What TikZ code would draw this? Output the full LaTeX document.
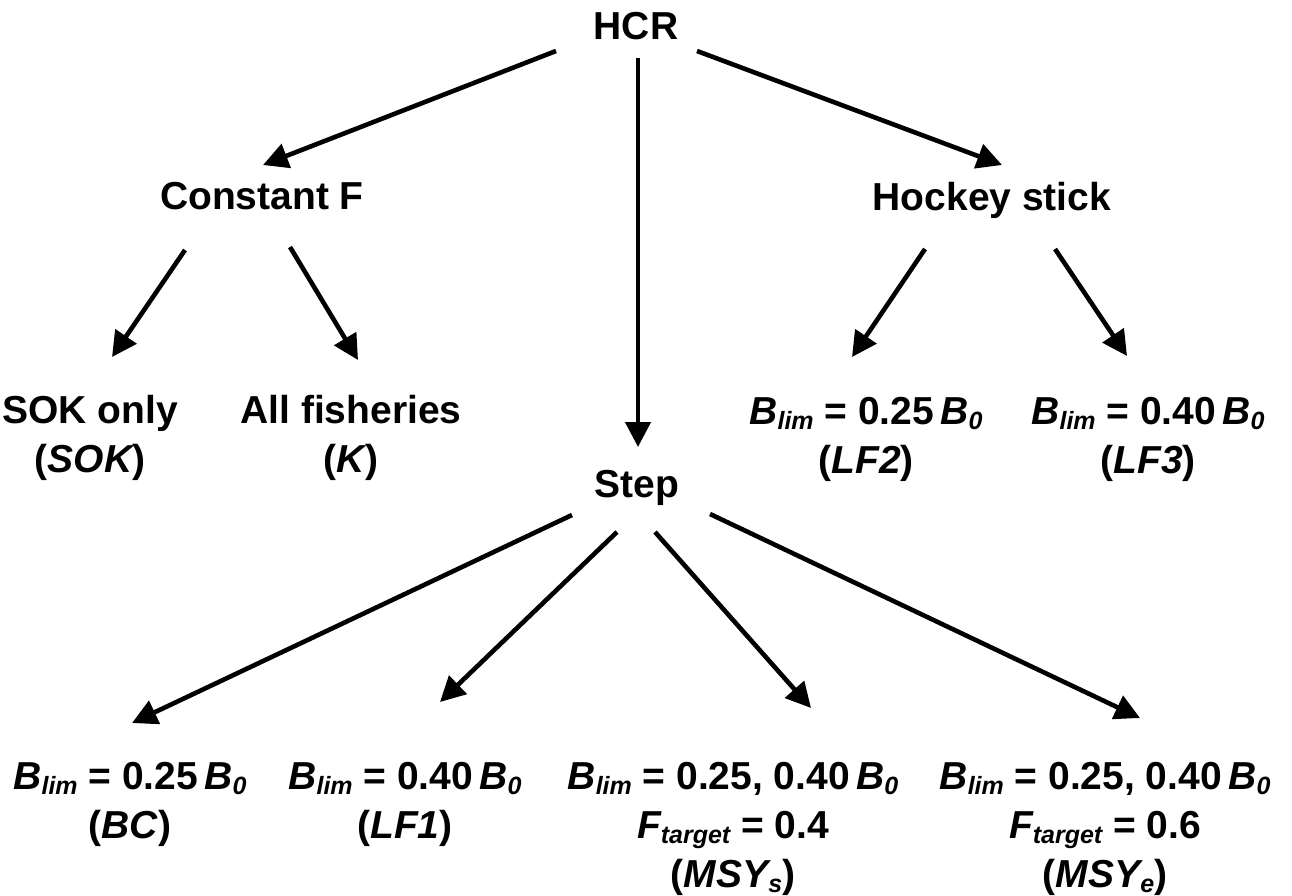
\documentclass[tikz,border=0pt]{standalone}
\usepackage{fontspec}
\setmainfont{Liberation Sans}
\usepackage{tikz}
\usetikzlibrary{arrows.meta,calc}
\tikzset{>={Triangle[length=25pt,width=25pt]}}
\newcommand\subtxt[1]{\raisebox{-5pt}{\fontsize{25}{25}\selectfont\itshape #1}}
\newcommand\ital[1]{{\itshape #1}}

\begin{document}
\begin{tikzpicture}[x=1pt,y=-1pt,
	lbl/.style={font=\bfseries\fontsize{39}{49}\selectfont, align=center, anchor=north, inner sep=0pt, outer sep=0pt},
	arr/.style={->, line width=4.6pt}]

\useasboundingbox (0,0) rectangle (1292,896);

\node[lbl] (hcr) at (636,12){HCR};

\node[lbl] (constf) at (262,182){Constant F};
\node[lbl] (hockey) at (992,182){Hockey stick};
\node[lbl] (step) at (637,470){Step};

\node[lbl] (sok) at (90,395){SOK only\\(\ital{SOK})};
\node[lbl] (allf) at (351,395){All fisheries\\(\ital{K})};

\node[lbl] (lftwo) at (866,397){\ital{B}\subtxt{lim} = 0.25\,\ital{B}\subtxt{0}\\(\ital{LF2})};
\node[lbl] (lfthree) at (1148,397){\ital{B}\subtxt{lim} = 0.40\,\ital{B}\subtxt{0}\\(\ital{LF3})};

\node[lbl] (bc) at (130,762){\ital{B}\subtxt{lim} = 0.25\,\ital{B}\subtxt{0}\\(\ital{BC})};
\node[lbl] (lfone) at (405,762){\ital{B}\subtxt{lim} = 0.40\,\ital{B}\subtxt{0}\\(\ital{LF1})};
\node[lbl] (msys) at (733,762){\ital{B}\subtxt{lim} = 0.25, 0.40\,\ital{B}\subtxt{0}\\\ital{F}\subtxt{target} = 0.4\\(\ital{MSY}\subtxt{s})};
\node[lbl] (msye) at (1105,762){\ital{B}\subtxt{lim} = 0.25, 0.40\,\ital{B}\subtxt{0}\\\ital{F}\subtxt{target} = 0.6\\(\ital{MSY}\subtxt{e})};

% Top level
\draw[arr] ([shift={(-80,39)}]hcr.north) -- ([shift={(1,-17)}]constf.north);
\draw[arr] ([shift={(61,39)}]hcr.north) -- ([shift={(10,-17)}]hockey.north);
\draw[arr] ([shift={(2,46)}]hcr.north) -- ([shift={(1,-23)}]step.north);

% Constant F branch
\draw[arr] ([shift={(-77,68)}]constf.north) -- ([shift={(22,-38)}]sok.north);
\draw[arr] ([shift={(28,65)}]constf.north) -- ([shift={(7,-35)}]allf.north);

% Hockey stick branch
\draw[arr] ([shift={(-67,67)}]hockey.north) -- ([shift={(-14,-40)}]lftwo.north);
\draw[arr] ([shift={(63,67)}]hockey.north) -- ([shift={(-21,-41)}]lfthree.north);

% Step branch
\draw[arr] ([shift={(-65,45)}]step.north) -- ([shift={(2,-39)}]bc.north);
\draw[arr] ([shift={(-20,62)}]step.north) -- ([shift={(35,-60)}]lfone.north);
\draw[arr] ([shift={(18,62)}]step.north) -- ([shift={(78,-54)}]msys.north);
\draw[arr] ([shift={(73,44)}]step.north) -- ([shift={(35,-44)}]msye.north);

\end{tikzpicture}
\end{document}
